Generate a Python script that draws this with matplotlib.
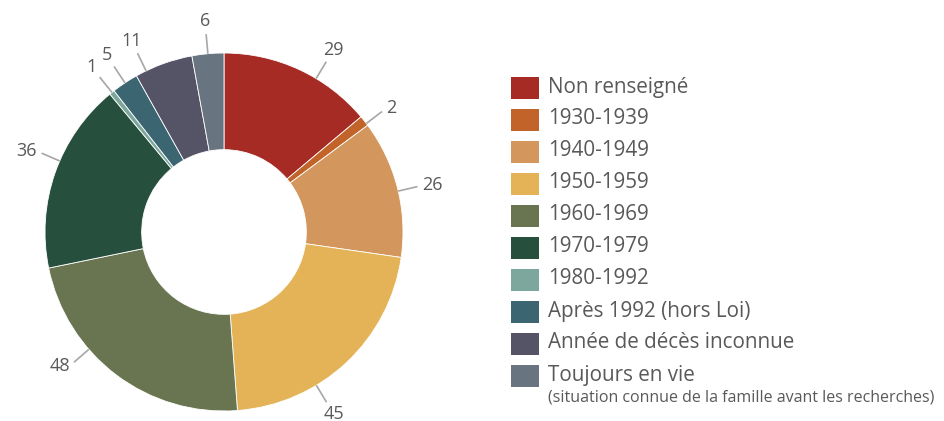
import numpy as np
import matplotlib.pyplot as plt
from matplotlib.patches import Rectangle

plt.rcParams['font.family'] = ['Open Sans', 'DejaVu Sans']

categories = ["Non renseigné", "1930-1939", "1940-1949", "1950-1959", "1960-1969",
              "1970-1979", "1980-1992", "Après 1992 (hors Loi)",
              "Année de décès inconnue", "Toujours en vie"]
values = [29, 2, 26, 45, 48, 36, 1, 5, 11, 6]
colors = ["#A62B25", "#C2642A", "#D3975E", "#E4B257", "#687550",
          "#26503D", "#7DA79C", "#3B6571", "#545466", "#687480"]
note = "(situation connue de la famille avant les recherches)"

# small angle nudges (degrees, clockwise) for label leader lines, as in the original
label_nudge = [6, 1, 1, 12, 12, 4, 0, 0, -6, 0]

text_col = "#595959"
line_col = "#A6A6A6"

W, H = 945, 421
fig = plt.figure(figsize=(W / 100, H / 100), dpi=100)
ax = fig.add_axes([0, 0, 1, 1])

cx, cy, R = 224, 189, 179
wedges, _ = ax.pie(values, colors=colors, startangle=90, counterclock=False,
                   radius=R, center=(cx, cy), frame=True,
                   wedgeprops=dict(width=R * 0.54, edgecolor="white", linewidth=0.6))
ax.set_xlim(0, W)
ax.set_ylim(0, H)
ax.set_aspect("equal")
ax.axis("off")

total = sum(values)
cum = np.cumsum([0] + values[:-1])
for v, c0, nudge in zip(values, cum, label_nudge):
    ang = np.deg2rad((c0 + v / 2) / total * 360 + nudge)
    dx, dy = np.sin(ang), np.cos(ang)
    ex, ey = cx + R * 1.11 * dx, cy + R * 1.11 * dy
    ax.plot([cx + R * dx, ex], [cy + R * dy, ey],
            color=line_col, lw=1.2, solid_capstyle="butt")
    if abs(dx) > 0.7:
        ha = "left" if dx > 0 else "right"
        tx, ty = ex + 5 * dx, ey + 5 * dy
    else:
        ha = "center"
        tx, ty = cx + R * 1.185 * dx, cy + R * 1.185 * dy
    ax.text(tx, ty, str(v), ha=ha, va="center", fontsize=13, color=text_col)

# legend
for i, (lab, col) in enumerate(zip(categories, colors)):
    top = 77 + 32 * i
    ax.add_patch(Rectangle((511, H - top - 22), 28, 22, color=col, lw=0))
    ax.text(548, H - top - 10, lab, ha="left", va="center", fontsize=14.9, color=text_col)
ax.text(548, H - 397, note, ha="left", va="center", fontsize=11.5, color=text_col)

fig.savefig("out.png", dpi=100)
